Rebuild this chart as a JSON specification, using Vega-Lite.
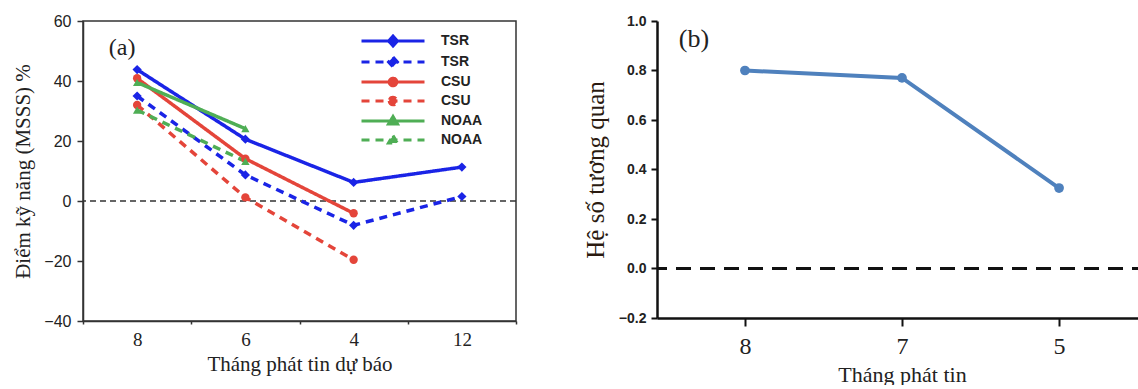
{
  "$schema": "https://vega.github.io/schema/vega-lite/v6.json",
  "padding": {"left": 12, "top": 12, "right": 0, "bottom": 0},
  "background": "white",
  "config": {"view": {"stroke": null}, "font": "Liberation Serif"},
  "datasets": {
    "skill": [
      {"month": "8", "key": "TSR_a", "series": "TSR", "value": 43.8},
      {"month": "6", "key": "TSR_a", "series": "TSR", "value": 20.6},
      {"month": "4", "key": "TSR_a", "series": "TSR", "value": 6.2},
      {"month": "12", "key": "TSR_a", "series": "TSR", "value": 11.3},
      {"month": "8", "key": "TSR_b", "series": "TSR", "value": 35.0},
      {"month": "6", "key": "TSR_b", "series": "TSR", "value": 8.7},
      {"month": "4", "key": "TSR_b", "series": "TSR", "value": -8.1},
      {"month": "12", "key": "TSR_b", "series": "TSR", "value": 1.5},
      {"month": "8", "key": "CSU_a", "series": "CSU", "value": 40.9},
      {"month": "6", "key": "CSU_a", "series": "CSU", "value": 14.1},
      {"month": "4", "key": "CSU_a", "series": "CSU", "value": -4.1},
      {"month": "8", "key": "CSU_b", "series": "CSU", "value": 32.0},
      {"month": "6", "key": "CSU_b", "series": "CSU", "value": 1.2},
      {"month": "4", "key": "CSU_b", "series": "CSU", "value": -19.6},
      {"month": "8", "key": "NOAA_a", "series": "NOAA", "value": 39.5},
      {"month": "6", "key": "NOAA_a", "series": "NOAA", "value": 24.1},
      {"month": "8", "key": "NOAA_b", "series": "NOAA", "value": 30.3},
      {"month": "6", "key": "NOAA_b", "series": "NOAA", "value": 13.2}
    ],
    "corr": [
      {"month": "8", "value": 0.80},
      {"month": "7", "value": 0.77},
      {"month": "5", "value": 0.325}
    ]
  },
  "spacing": 65,
  "hconcat": [
    {
      "width": 433,
      "height": 300,
      "view": {"stroke": "#333", "strokeWidth": 1.5},
      "layer": [
        {
          "data": {"values": [{}]},
          "mark": {"type": "rule", "color": "#333", "strokeDash": [6, 4], "strokeWidth": 1.3},
          "encoding": {"y": {"datum": 0, "type": "quantitative"}}
        },
        {
          "data": {"name": "skill"},
          "encoding": {
            "x": {
              "field": "month", "type": "ordinal", "sort": ["8", "6", "4", "12"],
              "scale": {"type": "band", "paddingInner": 0, "paddingOuter": 0},
              "axis": {
                "title": "Tháng phát tin dự báo", "titleFont": "Liberation Serif", "titleFontSize": 21,
                "titleFontWeight": "normal", "titleColor": "#222", "titlePadding": 4,
                "labelFont": "Liberation Serif", "labelFontSize": 19, "labelColor": "#222",
                "labelAngle": 0, "labelPadding": 6, "tickBand": "extent", "tickSize": 3,
                "tickColor": "#333", "tickWidth": 1.5, "domainColor": "#333", "domainWidth": 1.5
              }
            },
            "y": {
              "field": "value", "type": "quantitative",
              "scale": {"domain": [-40, 60], "nice": false, "zero": false},
              "axis": {
                "title": "Điểm kỹ năng (MSSS) %", "titleFont": "Liberation Serif", "titleFontSize": 21,
                "titleFontWeight": "normal", "titleColor": "#222", "titlePadding": 10,
                "values": [-40, -30, -20, -10, 0, 10, 20, 30, 40, 50, 60],
                "labelExpr": "datum.value % 20 === 0 ? datum.label : ''",
                "labelFont": "Liberation Sans", "labelFontSize": 16, "labelColor": "#222", "labelPadding": 6,
                "tickSize": {"condition": {"test": "datum.value % 20 === 0", "value": 6}, "value": 3},
                "tickColor": "#333", "tickWidth": 1.5, "domainColor": "#333", "domainWidth": 1.5,
                "grid": false
              }
            },
            "color": {
              "field": "key", "type": "nominal",
              "scale": {
                "domain": ["TSR_a", "TSR_b", "CSU_a", "CSU_b", "NOAA_a", "NOAA_b"],
                "range": ["#1a24e6", "#1a24e6", "#e4453a", "#e4453a", "#4fae55", "#4fae55"]
              },
              "legend": {
                "orient": "none", "legendX": 303, "legendY": 13, "title": null, "padding": 0,
                "labelExpr": "split(datum.value, '_')[0]",
                "labelFont": "Liberation Sans", "labelFontWeight": "bold", "labelFontSize": 14,
                "labelColor": "#222", "labelOffset": 41, "rowPadding": -1,
                "symbolSize": 100, "symbolStrokeWidth": 3
              }
            }
          },
          "layer": [
            {
              "mark": {"type": "line", "strokeWidth": 3.5},
              "encoding": {
                "strokeDash": {
                  "field": "key", "type": "nominal",
                  "scale": {
                    "domain": ["TSR_a", "TSR_b", "CSU_a", "CSU_b", "NOAA_a", "NOAA_b"],
                    "range": [[1, 0], [8, 6], [1, 0], [8, 6], [1, 0], [8, 6]]
                  },
                  "legend": {"title": null}
                }
              }
            },
            {
              "transform": [{"filter": "datum.series === 'TSR'"}],
              "mark": {"type": "point", "filled": true, "size": 85, "opacity": 1, "shape": "diamond"}
            },
            {
              "transform": [{"filter": "datum.series === 'CSU'"}],
              "mark": {"type": "point", "filled": true, "size": 70, "opacity": 1, "shape": "circle"}
            },
            {
              "transform": [{"filter": "datum.series === 'NOAA'"}],
              "mark": {"type": "point", "filled": true, "size": 70, "opacity": 1, "shape": "triangle-up"}
            },
            {
              "transform": [{"filter": "datum.value > 1000"}],
              "mark": {"type": "point", "filled": true, "opacity": 1},
              "encoding": {
                "shape": {
                  "field": "key", "type": "nominal",
                  "scale": {
                    "domain": ["TSR_a", "TSR_b", "CSU_a", "CSU_b", "NOAA_a", "NOAA_b"],
                    "range": [
                      "M-6.3,0L6.3,0M0,-1L0.9,0L0,1L-0.9,0Z",
                      "M-6.3,0L6.3,0M0,-1L0.9,0L0,1L-0.9,0Z",
                      "M-6.3,0L6.3,0M-0.76,0A0.76,0.76,0,1,0,0.76,0A0.76,0.76,0,1,0,-0.76,0Z",
                      "M-6.3,0L6.3,0M-0.76,0A0.76,0.76,0,1,0,0.76,0A0.76,0.76,0,1,0,-0.76,0Z",
                      "M-6.3,0L6.3,0M0,-0.9L0.9,0.6L-0.9,0.6Z",
                      "M-6.3,0L6.3,0M0,-0.9L0.9,0.6L-0.9,0.6Z"
                    ]
                  },
                  "legend": {"title": null}
                }
              }
            }
          ]
        },
        {
          "data": {"values": [{"label": "(a)"}]},
          "mark": {"type": "text", "font": "Liberation Serif", "fontSize": 24, "color": "#222", "dx": -15, "baseline": "middle", "align": "center"},
          "encoding": {
            "text": {"field": "label"},
            "x": {"datum": "8", "type": "ordinal"},
            "y": {"datum": 51, "type": "quantitative"}
          }
        }
      ]
    },
    {
      "width": 490,
      "height": 297,
      "layer": [
        {
          "data": {"values": [{}]},
          "mark": {"type": "rule", "color": "#111", "strokeDash": [15, 9], "strokeWidth": 3},
          "encoding": {"y": {"datum": 0, "type": "quantitative"}}
        },
        {
          "data": {"name": "corr"},
          "encoding": {
            "x": {
              "field": "month", "type": "ordinal", "sort": ["8", "7", "5"],
              "scale": {"type": "point", "padding": 0.56},
              "axis": {
                "title": "Tháng phát tin", "titleFont": "Liberation Serif", "titleFontSize": 22,
                "titleFontWeight": "normal", "titleColor": "#222", "titlePadding": 6,
                "labelFont": "Liberation Serif", "labelFontSize": 24, "labelColor": "#222",
                "labelAngle": 0, "labelPadding": 8, "tickSize": 8,
                "tickColor": "#111", "tickWidth": 2, "domainColor": "#111", "domainWidth": 2.5
              }
            },
            "y": {
              "field": "value", "type": "quantitative",
              "scale": {"domain": [-0.2, 1.0], "nice": false, "zero": false},
              "axis": {
                "title": "Hệ số tương quan", "titleFont": "Liberation Serif", "titleFontSize": 25,
                "titleFontWeight": "normal", "titleColor": "#2a1a10", "titlePadding": 10,
                "values": [-0.2, -0.1, 0, 0.1, 0.2, 0.3, 0.4, 0.5, 0.6, 0.7, 0.8, 0.9, 1.0],
                "labelExpr": "abs(round(datum.value*10)) % 2 === 0 ? format(datum.value, '.1f') : ''",
                "labelFont": "Liberation Sans", "labelFontWeight": "bold", "labelFontSize": 14,
                "labelColor": "#222", "labelPadding": 5,
                "tickSize": {"condition": {"test": "abs(round(datum.value*10)) % 2 === 0", "value": 6}, "value": 3},
                "tickColor": "#111", "tickWidth": 2, "domainColor": "#111", "domainWidth": 2.5,
                "grid": false
              }
            }
          },
          "layer": [
            {"mark": {"type": "line", "color": "#4f81bd", "strokeWidth": 4}},
            {"mark": {"type": "point", "filled": true, "size": 95, "color": "#4f81bd", "opacity": 1}}
          ]
        },
        {
          "data": {"values": [{"label": "(b)"}]},
          "mark": {"type": "text", "font": "Liberation Serif", "fontSize": 26, "color": "#222", "dx": -51, "baseline": "middle", "align": "center"},
          "encoding": {
            "text": {"field": "label"},
            "x": {"datum": "8", "type": "ordinal"},
            "y": {"datum": 0.926, "type": "quantitative"}
          }
        }
      ]
    }
  ]
}
